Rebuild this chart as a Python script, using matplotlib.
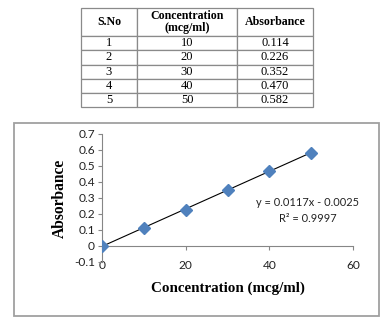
import numpy as np
import matplotlib
matplotlib.use("Agg")
import matplotlib.pyplot as plt
from matplotlib.patches import Rectangle

# ---- data ----
sno = [1, 2, 3, 4, 5]
concentration = [10, 20, 30, 40, 50]
absorbance = [0.114, 0.226, 0.352, 0.470, 0.582]
plot_x = [0, 10, 20, 30, 40, 50]
plot_y = [0, 0.114, 0.226, 0.352, 0.470, 0.582]
col_labels = ["S.No", "Concentration\n(mcg/ml)", "Absorbance"]
eq_text = "y = 0.0117x - 0.0025"
r2_text = "R² = 0.9997"
x_ticks = [0, 20, 40, 60]
y_ticks = [-0.1, 0, 0.1, 0.2, 0.3, 0.4, 0.5, 0.6, 0.7]

W, H = 386, 322
fig = plt.figure(figsize=(W / 100, H / 100), dpi=100)
fig.patch.set_facecolor("white")

def fx(px):
    return px / W

def fy(py):
    return 1 - py / H

# ---- table ----
tax = fig.add_axes([fx(81), fy(107), fx(313) - fx(81), fy(8) - fy(107)])
tax.axis("off")
cell_text = [[str(s), str(c), f"{a:.3f}"] for s, c, a in zip(sno, concentration, absorbance)]
tbl = tax.table(cellText=cell_text, colLabels=col_labels,
                colWidths=[56, 100, 76], cellLoc="center", bbox=[0, 0, 1, 1])
tbl.auto_set_font_size(False)
for (r, c), cell in tbl.get_celld().items():
    cell.set_edgecolor("#8a8a8a")
    cell.set_linewidth(0.9)
    cell.set_height(2.0 if r == 0 else 1.0)
    txt = cell.get_text()
    txt.set_fontfamily("Liberation Serif")
    if r == 0:
        txt.set_fontweight("bold")
        txt.set_fontsize(8.6)
        txt.set_linespacing(1.0)
    else:
        txt.set_fontsize(9.0)

# ---- chart frame ----
fig.add_artist(Rectangle((fx(14), fy(316)), fx(379) - fx(14), fy(123) - fy(316),
                         transform=fig.transFigure, fill=False,
                         edgecolor="#a0a0a0", linewidth=1.3))

# ---- chart ----
ax = fig.add_axes([fx(102), fy(262), fx(353) - fx(102), fy(134) - fy(262)])
ax.set_xlim(0, 60)
ax.set_ylim(-0.1, 0.7)
ax.set_facecolor("none")

slope, intercept = np.polyfit(plot_x, plot_y, 1)
xl = np.array([min(plot_x), max(plot_x)])
ax.plot(xl, slope * xl + intercept, color="black", lw=0.8, zorder=2)
ax.plot(plot_x, plot_y, linestyle="none", marker="D", markersize=6,
        color="#4F81BD", markeredgecolor="#4F81BD", zorder=3)

for s in ["top", "right"]:
    ax.spines[s].set_visible(False)
ax.spines["bottom"].set_position(("data", 0))
ax.spines["bottom"].set_color("#868686")
ax.spines["left"].set_color("#868686")
ax.spines["bottom"].set_linewidth(0.8)
ax.spines["left"].set_linewidth(0.8)

ax.set_xticks(x_ticks)
ax.set_yticks(y_ticks)
ax.set_yticklabels([f"{v:g}" for v in y_ticks])
ax.tick_params(axis="both", direction="out", length=3, width=0.8, color="#868686",
               labelsize=8.6, labelcolor="#222222")
ax.tick_params(axis="x", pad=7)
ax.tick_params(axis="y", pad=2)
for lab in ax.get_xticklabels() + ax.get_yticklabels():
    lab.set_fontfamily("Lato")

fig.text(fx(60), fy(198), "Absorbance", rotation=90, ha="center", va="center",
         fontfamily="Liberation Serif", fontweight="bold", fontsize=11.2)
fig.text(fx(228), fy(288), "Concentration (mcg/ml)", ha="center", va="center",
         fontfamily="Liberation Serif", fontweight="bold", fontsize=10.8)

fig.text(fx(308), fy(203), eq_text, ha="center", va="center",
         fontfamily="Lato", fontsize=7.9, color="#222222")
fig.text(fx(308), fy(218), r2_text, ha="center", va="center",
         fontfamily="Lato", fontsize=7.9, color="#222222")

fig.savefig("out.png", dpi=100)
